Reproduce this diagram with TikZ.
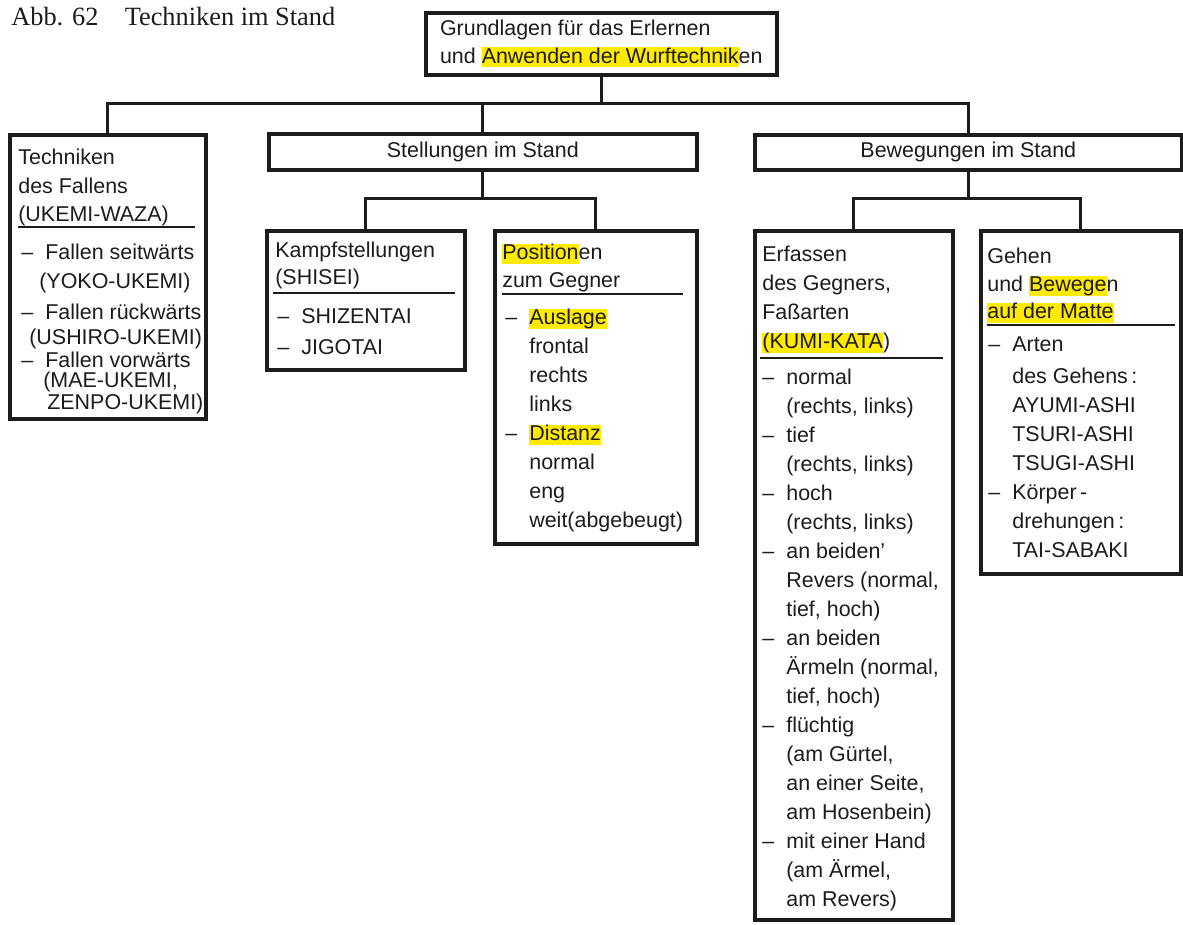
\documentclass[tikz,border=0pt]{standalone}
\usepackage{fontspec}
\setmainfont{Liberation Sans}
\newfontfamily\capfont{Liberation Serif}
\usetikzlibrary{calc}
\definecolor{inkClr}{HTML}{1C1C1C}
\definecolor{markFl}{HTML}{FFEA00}
\newcommand{\mk}[1]{{\setlength{\fboxsep}{0pt}\colorbox{markFl}{\rule[-2.5pt]{0pt}{11pt}#1}}}
\newcommand{\dsh}{\makebox[0.48cm][l]{–}}
\newcommand{\ind}{\hspace*{0.48cm}}

\begin{document}
\begin{tikzpicture}[
  x=0.02cm, y=-0.02cm,
  font=\fontsize{12.2}{16.5}\selectfont,
  color=inkClr,
  box/.style={draw, line width=2.1pt, inner sep=0pt, anchor=north west},
  txt/.style={anchor=north west, inner sep=0pt, align=left},
  conn/.style={line width=1.7pt},
  sep/.style={line width=1.4pt},
]
\useasboundingbox (0,0) rectangle (1183,924);

% ---------- caption ----------
\node[anchor=base west, inner sep=0pt, font=\capfont\fontsize{15}{18}\selectfont] (abb) at (11,25)
  {Abb. 62\quad Techniken im Stand};

% ---------- upper boxes ----------
\node[box, minimum width=7.02cm, minimum height=1.24cm, align=left] (top) at (424,11)
  {Grundlagen für das Erlernen\\[-1pt]und \mk{Anwenden der Wurftechnik}en};
\node[box, minimum width=8.56cm, minimum height=0.72cm] (stell) at (267,132) {Stellungen im Stand};
\node[box, minimum width=8.54cm, minimum height=0.70cm] (bewe) at (753,133) {Bewegungen im Stand};

% ---------- lower boxes ----------
\node[box, minimum width=3.92cm, minimum height=5.68cm] (fall) at (8,133) {};
\node[box, minimum width=3.96cm, minimum height=2.78cm] (kampf) at (265,229) {};
\node[box, minimum width=4.04cm, minimum height=6.26cm] (posi) at (493,229) {};
\node[box, minimum width=3.96cm, minimum height=13.78cm] (erf) at (753,229) {};
\node[box, minimum width=4.00cm, minimum height=6.86cm] (geh) at (979,229) {};

% ---------- falling ----------
\node[txt] (fallHd) at (18,149) {Techniken\\[-0.5pt]des Fallens\\[-0.5pt](UKEMI-WAZA)};
\draw[sep] (18,227) -- (195,227);
\node[txt] (fallBd) at (21,244)
  {\dsh Fallen seitwärts\\[-0.5pt]
   \hspace*{0.36cm}(YOKO-UKEMI)\\[1.5pt]
   \dsh Fallen rückwärts\\[-2.5pt]
   \hspace*{0.16cm}(USHIRO-UKEMI)\\[-3.5pt]
   \dsh Fallen vorwärts\\[-5pt]
   \hspace*{0.44cm}(MAE-UKEMI,\\[-4pt]
   \hspace*{0.52cm}ZENPO-UKEMI)};

% ---------- stances ----------
\node[txt] (kampfHd) at (275,242) {Kampfstellungen\\[-1.5pt](SHISEI)};
\draw[sep] (273,293) -- (455,293);
\node[txt] (kampfBd) at (277,308) {\dsh SHIZENTAI\\[1pt]\dsh JIGOTAI};

\node[txt] (posiHd) at (502,244) {\mk{Position}en\\[-1pt]zum Gegner};
\draw[sep] (502,294) -- (683,294);
\node[txt] (posiBd) at (505,309)
  {\dsh\mk{Auslage}\\\ind frontal\\\ind rechts\\\ind links\\
   \dsh\mk{Distanz}\\\ind normal\\\ind eng\\\ind weit(abgebeugt)};

% ---------- gripping ----------
\node[txt] (erfHd) at (762,246) {Erfassen\\des Gegners,\\Faßarten\\\mk{(KUMI-KATA})};
\draw[sep] (760,358) -- (943,358);
\node[txt] (erfBd) at (762,369)
  {\dsh normal\\\ind(rechts, links)\\
   \dsh tief\\\ind(rechts, links)\\
   \dsh hoch\\\ind(rechts, links)\\
   \dsh an beiden’\\\ind Revers (normal,\\\ind tief, hoch)\\
   \dsh an beiden\\\ind Ärmeln (normal,\\\ind tief, hoch)\\
   \dsh flüchtig\\\ind(am Gürtel,\\\ind an einer Seite,\\\ind am Hosenbein)\\
   \dsh mit einer Hand\\\ind(am Ärmel,\\\ind am Revers)};

% ---------- walking ----------
\node[txt] (gehHd) at (987,248) {Gehen\\[-1pt]und \mk{Bewege}n\\[-1pt]\mk{auf der Matte}};
\draw[sep] (987,325) -- (1175,325);
\node[txt] (gehBd) at (988,336)
  {\dsh Arten\\[2pt]\ind des Gehens\,:\\\ind AYUMI-ASHI\\\ind TSURI-ASHI\\\ind TSUGI-ASHI\\
   \dsh Körper\,-\\\ind drehungen\,:\\\ind TAI-SABAKI};

% ---------- tree lines ----------
\coordinate (busTop) at (0,103);
\coordinate (busLow) at (0,198);
\draw[conn] (top.south) -- (top.south |- busTop);
\draw[conn] (fall.north) |- (bewe.north |- busTop) -- (bewe.north);
\draw[conn] (stell.north) -- (stell.north |- busTop);
\draw[conn] (stell.south) -- (stell.south |- busLow);
\draw[conn] (kampf.north) |- (posi.north |- busLow) -- (posi.north);
\draw[conn] (bewe.south) -- (bewe.south |- busLow);
\draw[conn] (erf.north) |- (geh.north |- busLow) -- (geh.north);

\end{tikzpicture}
\end{document}
